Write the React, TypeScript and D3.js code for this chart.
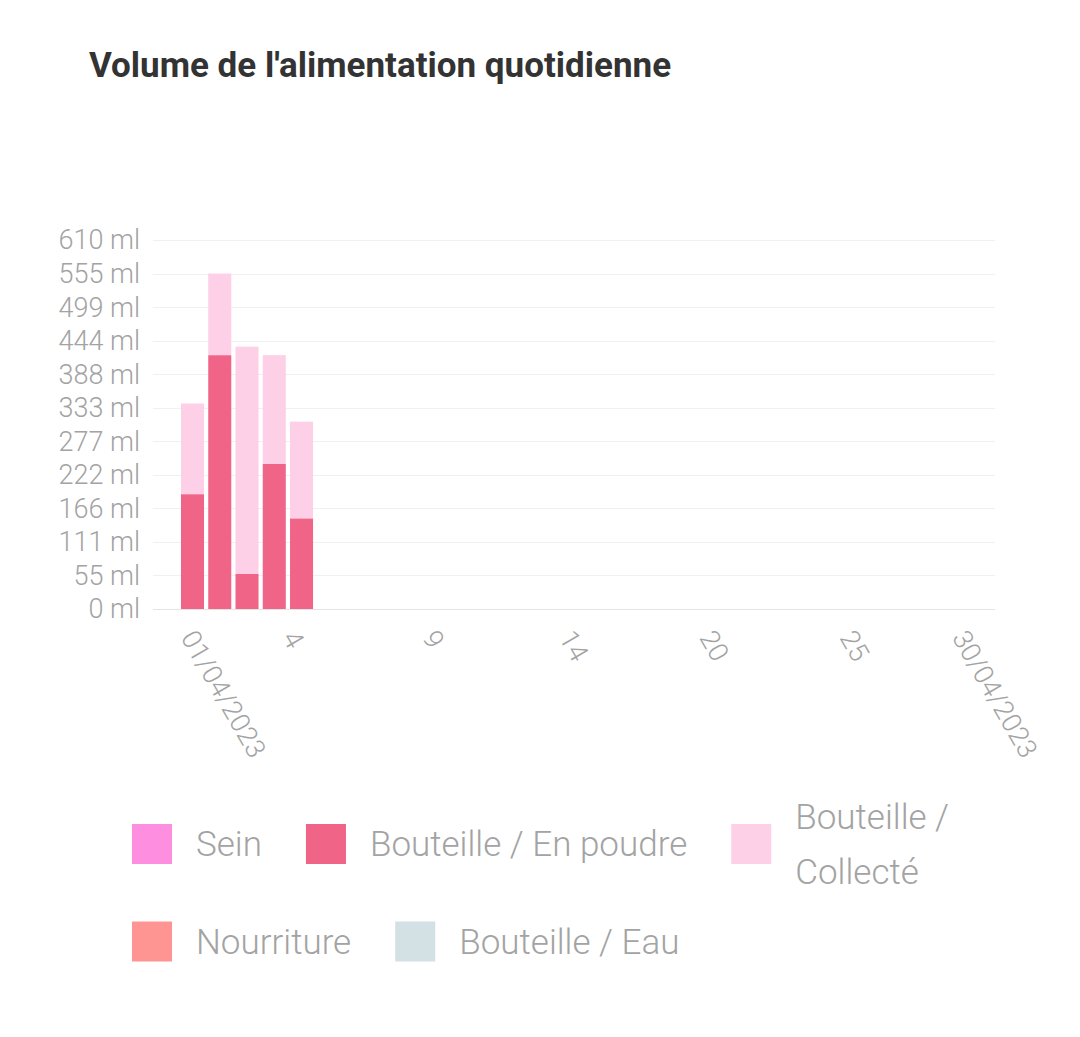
import React, { useEffect, useRef } from 'react';
import * as d3 from 'd3';

const TITLE = "Volume de l'alimentation quotidienne";

// one category per day of April 2023
const DAYS = d3.range(1, 31);
const X_LABELS = ['01/04/2023', '4', '9', '14', '20', '25', '30/04/2023'];

const SERIES = ['Sein', 'Bouteille / En poudre', 'Bouteille / Collecté', 'Nourriture', 'Bouteille / Eau'];
const COLORS = ['#fe8fe0', '#f06488', '#fdd0e8', '#ff9593', '#d3e0e4'];

// ml per day, days 1..5 (no entries after)
const SEIN = [0, 0, 0, 0, 0];
const POUDRE = [190, 420, 58, 240, 150];
const COLLECTE = [150, 135, 376, 180, 160];
const NOURRITURE = [0, 0, 0, 0, 0];
const EAU = [0, 0, 0, 0, 0];

const Y_TICK_COUNT = 11;

const W = 1080;
const H = 1037;
const FONT = 'Roboto, "Noto Sans", sans-serif';
const GREY = '#a3a3a3';
const AXIS_FS = 27;
const LEGEND_FS = 35;

export default function App() {
  const ref = useRef<SVGSVGElement>(null);

  useEffect(() => {
    document.body.style.margin = '0';
    if (!ref.current) return;
    const svg = d3.select(ref.current);
    svg.selectAll('*').remove();

    const plot = { left: 153, right: 995, top: 240, bottom: 609 };

    const values = [SEIN, POUDRE, COLLECTE, NOURRITURE, EAU];
    const rows = DAYS.map((day, i) => {
      const r: Record<string, number> = { day };
      SERIES.forEach((s, k) => (r[s] = values[k][i] ?? 0));
      return r;
    });
    const stacked = d3.stack<Record<string, number>>().keys(SERIES)(rows);

    const totals = rows.map((r) => d3.sum(SERIES, (s) => r[s]));
    const yMax = (d3.max(totals) ?? 1) * 1.1;

    const y = d3.scaleLinear().domain([0, yMax]).range([plot.bottom, plot.top]);
    const x = d3.scaleLinear().domain([1, 30]).range([192.5, 983]);
    const barW = (x(2) - x(1)) * 0.845;

    // title
    svg.append('text')
      .attr('x', 89)
      .attr('y', 77)
      .attr('font-family', FONT)
      .attr('font-weight', 700)
      .attr('font-size', 35)
      .attr('fill', '#333333')
      .text(TITLE);

    // grid + y labels
    const ticks = d3.range(Y_TICK_COUNT + 1).map((i) => (i * yMax) / Y_TICK_COUNT);
    const grid = svg.append('g');
    ticks.forEach((t, i) => {
      grid.append('line')
        .attr('x1', plot.left)
        .attr('x2', plot.right)
        .attr('y1', Math.round(y(t)) + 0.5)
        .attr('y2', Math.round(y(t)) + 0.5)
        .attr('stroke', i === 0 ? '#e4e4e4' : '#f0f0f0')
        .attr('stroke-width', 1.2);
      grid.append('text')
        .attr('x', 140)
        .attr('y', y(t))
        .attr('dy', '0.35em')
        .attr('text-anchor', 'end')
        .attr('font-family', FONT)
        .attr('font-weight', 300)
        .attr('font-size', AXIS_FS)
        .attr('fill', GREY)
        .text(`${Math.floor(t)} ml`);
    });

    // stacked bars
    const bars = svg.append('g');
    stacked.forEach((layer, k) => {
      bars.selectAll(null)
        .data(layer.filter((d) => d[1] > d[0]))
        .join('rect')
        .attr('x', (d) => x(d.data.day) - barW / 2)
        .attr('width', barW)
        .attr('y', (d) => y(d[1]))
        .attr('height', (d) => y(d[0]) - y(d[1]))
        .attr('fill', COLORS[k]);
    });

    // x labels, rotated, spread evenly along the axis
    const xl = d3.scalePoint<string>().domain(X_LABELS).range([plot.left, plot.right]);
    const ang = (60 * Math.PI) / 180;
    const capH = AXIS_FS * 0.71;
    X_LABELS.forEach((lab, i) => {
      const t = svg.append('text')
        .attr('text-anchor', 'middle')
        .attr('dy', '0.35em')
        .attr('font-family', FONT)
        .attr('font-weight', 300)
        .attr('font-size', AXIS_FS)
        .attr('fill', GREY)
        .text(lab);
      const L = (t.node() as SVGTextElement).getComputedTextLength();
      const bh = L * Math.sin(ang) + capH * Math.cos(ang);
      let cx = xl(lab) ?? 0;
      if (i === 0) cx += L / 2;
      const cy = 628 + bh / 2;
      t.attr('transform', `translate(${cx},${cy}) rotate(60)`);
    });

    // legend with flow + word wrap
    const lg = svg.append('g');
    const startX = 132;
    const maxRight = 1000;
    const sq = 40;
    const gapText = 24;
    const gapItem = 44;
    const lineH = 55;
    let cx = startX;
    let cy = 844;
    let rowLines = 1;

    const measure = (s: string) => {
      const t = lg.append('text')
        .attr('font-family', FONT)
        .attr('font-weight', 300)
        .attr('font-size', LEGEND_FS)
        .text(s);
      const w = (t.node() as SVGTextElement).getComputedTextLength();
      t.remove();
      return w;
    };

    SERIES.forEach((name, k) => {
      const full = measure(name);
      let room = maxRight - (cx + sq + gapText);
      let lines = [name];
      if (full > room) {
        const words = name.split(' ');
        const longest = d3.max(words, measure) ?? 0;
        if (cx > startX && longest > room) {
          cy += ((rowLines - 1) * lineH) / 2 + 70;
          cx = startX;
          rowLines = 1;
          room = maxRight - (cx + sq + gapText);
        }
        if (full > room) {
          lines = [];
          let cur = '';
          words.forEach((w) => {
            const test = cur ? `${cur} ${w}` : w;
            if (cur && measure(test) > room) {
              lines.push(cur);
              cur = w;
            } else cur = test;
          });
          lines.push(cur);
        }
      }

      lg.append('rect')
        .attr('x', cx)
        .attr('y', cy - sq / 2)
        .attr('width', sq)
        .attr('height', sq)
        .attr('fill', COLORS[k]);

      const txt = lg.append('text')
        .attr('font-family', FONT)
        .attr('font-weight', 300)
        .attr('font-size', LEGEND_FS)
        .attr('fill', GREY);
      lines.forEach((ln, j) => {
        txt.append('tspan')
          .attr('x', cx + sq + gapText)
          .attr('y', cy + (j - (lines.length - 1) / 2) * lineH)
          .attr('dy', '0.35em')
          .text(ln);
      });
      const w = d3.max(lines, measure) ?? 0;
      rowLines = Math.max(rowLines, lines.length);
      cx += sq + gapText + w + gapItem;
    });
  }, []);

  return <svg ref={ref} width={W} height={H} style={{ display: 'block', background: '#fff' }} />;
}
